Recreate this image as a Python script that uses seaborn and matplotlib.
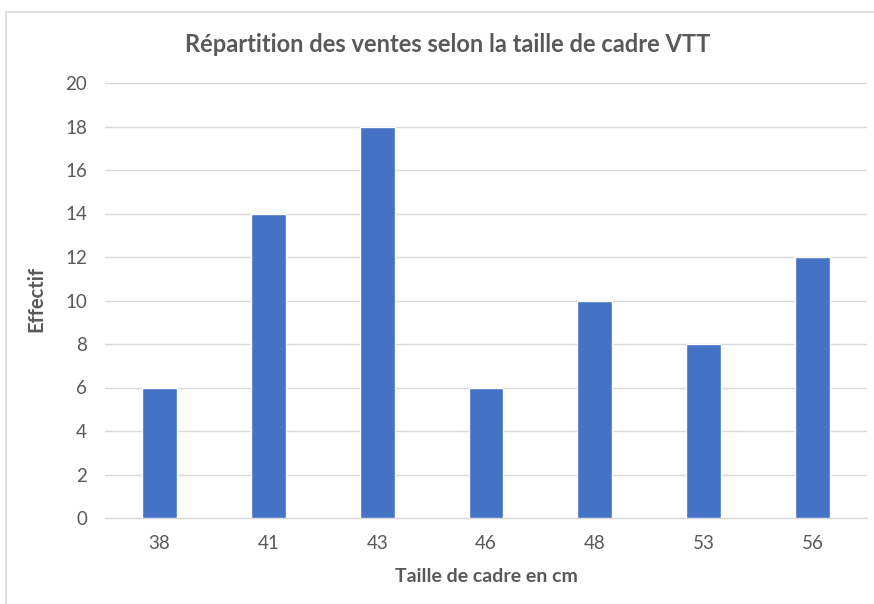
import pandas as pd
import matplotlib.pyplot as plt
import seaborn as sns
from matplotlib.patches import Rectangle

# Tailles de cadre (cm) et effectifs vendus
tailles = ["38", "41", "43", "46", "48", "53", "56"]
effectifs = [6, 14, 18, 6, 10, 8, 12]

COULEUR_BARRE = "#4472C4"
COULEUR_TEXTE = "#595959"
COULEUR_GRILLE = "#D9D9D9"

LARGEUR, HAUTEUR = 874, 604


def configurer_style():
    sns.set_theme(style="white")
    plt.rcParams["font.family"] = ["Lato", "DejaVu Sans"]


def graphique_ventes():
    df = pd.DataFrame({"taille": tailles, "effectif": effectifs})

    fig = plt.figure(figsize=(LARGEUR / 100, HAUTEUR / 100), dpi=100)
    ax = fig.add_axes([105 / LARGEUR, 1 - 518 / HAUTEUR,
                       762 / LARGEUR, 435 / HAUTEUR])

    sns.barplot(
        data=df,
        x="taille",
        y="effectif",
        color=COULEUR_BARRE,
        saturation=1,
        width=0.32,
        ax=ax,
        zorder=3,
    )

    ax.set_ylim(0, 20)
    ax.set_xlim(-0.5, len(tailles) - 0.5)
    ax.set_yticks(range(0, 21, 2))
    ax.yaxis.grid(True, color=COULEUR_GRILLE, linewidth=1)
    ax.set_axisbelow(True)

    for cote in ["left", "right", "top"]:
        ax.spines[cote].set_visible(False)
    ax.spines["bottom"].set_color(COULEUR_GRILLE)
    ax.spines["bottom"].set_linewidth(1)

    ax.tick_params(axis="both", length=0, labelsize=13.5, colors=COULEUR_TEXTE)
    ax.tick_params(axis="y", pad=13)
    ax.tick_params(axis="x", pad=12)

    # Titre centre sur toute la zone du graphique (comme dans Excel)
    fig.text(448 / LARGEUR, 1 - 44 / HAUTEUR,
             "Répartition des ventes selon la taille de cadre VTT",
             ha="center", va="center", fontsize=17, fontweight="bold",
             color=COULEUR_TEXTE)

    ax.set_xlabel("Taille de cadre en cm", fontsize=14, fontweight="bold",
                  color=COULEUR_TEXTE, va="center")
    ax.set_ylabel("Effectif", fontsize=14.5, fontweight="bold",
                  color=COULEUR_TEXTE, va="center")
    ax.xaxis.set_label_coords(486 / LARGEUR, 1 - 577 / HAUTEUR,
                              transform=fig.transFigure)
    ax.yaxis.set_label_coords(36 / LARGEUR, 1 - 299 / HAUTEUR,
                              transform=fig.transFigure)

    # Cadre gris clair autour de la zone du graphique
    fig.patches.append(Rectangle((6 / LARGEUR, -0.1), 1.2, 1.1 - 12 / HAUTEUR,
                                 transform=fig.transFigure, fill=False,
                                 edgecolor=COULEUR_GRILLE, linewidth=1.2))

    fig.savefig("out.png", dpi=100)
    plt.close(fig)


if __name__ == "__main__":
    configurer_style()
    graphique_ventes()
